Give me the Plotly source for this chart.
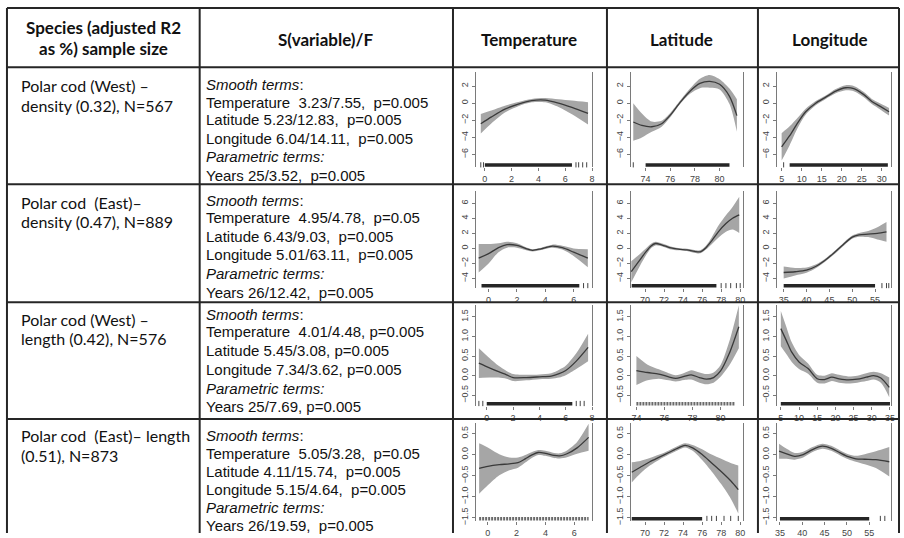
import plotly.graph_objects as go

W, H = 904, 538

# ---------------------------------------------------------------- table text
header_species = ["Species (adjusted R2", "as %) sample size"]
header_cols = ["S(variable)/F", "Temperature", "Latitude", "Longitude"]

species_labels = [
    ["Polar cod (West) \u2013", "density (0.32), N=567"],
    ["Polar cod  (East)\u2013", "density (0.47), N=889"],
    ["Polar cod (West) \u2013", "length (0.42), N=576"],
    ["Polar cod  (East)\u2013 length", "(0.51), N=873"],
]

# edf / F and p for the smooth terms, df / F and p for the year term
temp_stats = [("3.23/7.55", "0.005"), ("4.95/4.78", "0.05"), ("4.01/4.48", "0.005"), ("5.05/3.28", "0.05")]
lat_stats = [("5.23/12.83", "0.005"), ("6.43/9.03", "0.005"), ("5.45/3.08", "0.005"), ("4.11/15.74", "0.005")]
lon_stats = [("6.04/14.11", "0.005"), ("5.01/63.11", "0.005"), ("7.34/3.62", "0.005"), ("5.15/4.64", "0.005")]
year_stats = [("25/3.52", "0.005"), ("26/12.42", "0.005"), ("25/7.69", "0.005"), ("26/19.59", "0.005")]

# ---------------------------------------------------------------- smooths
# Polar cod (West) - density
wd_temp_x = [-0.3, 0.5, 1.5, 2.5, 3.5, 4.5, 5.5, 6.5, 7.7]
wd_temp_fit = [-2.4, -1.6, -0.7, -0.1, 0.3, 0.35, 0.0, -0.5, -1.2]
wd_temp_band = [1.15, 0.75, 0.4, 0.25, 0.2, 0.25, 0.45, 0.8, 1.3]

wd_lat_x = [73.0, 73.7, 74.5, 75.3, 76.0, 76.8, 77.6, 78.4, 79.2, 80.0, 80.8, 81.4]
wd_lat_fit = [-2.2, -2.6, -2.75, -2.4, -1.4, 0.1, 1.4, 2.3, 2.55, 2.2, 0.8, -1.45]
wd_lat_band = [2.2, 1.4, 0.6, 0.35, 0.25, 0.2, 0.3, 0.55, 0.75, 0.6, 0.9, 1.9]

wd_lon_x = [5.0, 7.0, 9.0, 11.0, 13.5, 16.0, 18.5, 21.0, 23.0, 25.5, 27.5, 29.5, 31.8]
wd_lon_fit = [-5.1, -3.8, -2.3, -1.0, 0.0, 0.7, 1.4, 1.8, 1.7, 1.0, 0.2, -0.35, -1.0]
wd_lon_band = [1.6, 1.1, 0.6, 0.35, 0.25, 0.2, 0.25, 0.3, 0.3, 0.3, 0.3, 0.35, 0.45]

# Polar cod (East) - density
ed_temp_x = [-0.7, 0.0, 0.7, 1.3, 2.0, 2.6, 3.1, 3.7, 4.5, 5.2, 6.0, 7.0]
ed_temp_fit = [-1.3, -0.7, 0.1, 0.5, 0.4, 0.0, -0.25, -0.05, 0.3, 0.1, -0.5, -1.3]
ed_temp_band = [1.9, 1.3, 0.6, 0.4, 0.3, 0.2, 0.15, 0.15, 0.2, 0.25, 0.5, 1.2]

ed_lat_x = [68.55, 69.3, 70.0, 70.6, 71.1, 71.8, 72.6, 73.5, 74.4, 75.2, 75.8, 76.4, 77.0, 77.7, 78.5, 79.2, 79.9]
ed_lat_fit = [-3.1, -1.8, -0.6, 0.3, 0.65, 0.45, 0.1, -0.1, -0.2, -0.4, -0.45, 0.1, 1.0, 2.2, 3.3, 4.0, 4.45]
ed_lat_band = [1.4, 0.9, 0.5, 0.3, 0.25, 0.2, 0.2, 0.15, 0.15, 0.2, 0.2, 0.25, 0.45, 0.8, 1.1, 1.5, 2.4]

ed_lon_x = [35.0, 37.5, 40.0, 42.0, 44.0, 46.0, 48.0, 50.0, 51.5, 53.5, 55.5, 57.5]
ed_lon_fit = [-3.2, -3.1, -2.9, -2.4, -1.6, -0.6, 0.5, 1.5, 1.8, 1.9, 2.0, 2.2]
ed_lon_band = [0.8, 0.5, 0.35, 0.25, 0.2, 0.2, 0.2, 0.2, 0.25, 0.4, 0.8, 1.3]

# Polar cod (West) - length
wl_temp_x = [-0.6, 0.2, 0.9, 1.5, 2.0, 3.0, 4.0, 4.9, 5.5, 6.0, 6.8, 7.7]
wl_temp_fit = [0.32, 0.2, 0.1, 0.02, -0.05, -0.05, -0.03, -0.01, 0.05, 0.13, 0.37, 0.72]
wl_temp_band = [0.38, 0.25, 0.15, 0.1, 0.09, 0.07, 0.06, 0.07, 0.1, 0.12, 0.2, 0.35]

wl_lat_x = [74.0, 74.8, 75.6, 76.3, 76.8, 77.4, 77.9, 78.5, 79.0, 79.5, 80.0, 80.6, 81.3]
wl_lat_fit = [0.13, 0.08, 0.04, -0.03, -0.07, -0.02, 0.02, -0.05, -0.09, -0.05, 0.12, 0.55, 1.25]
wl_lat_band = [0.37, 0.2, 0.12, 0.09, 0.08, 0.09, 0.12, 0.13, 0.13, 0.13, 0.15, 0.3, 0.55]

wl_lon_x = [5.0, 6.5, 8.0, 10.0, 12.5, 15.0, 17.0, 19.0, 21.0, 23.5, 26.0, 28.5, 30.5, 32.5, 34.8]
wl_lon_fit = [1.2, 0.9, 0.6, 0.35, 0.18, -0.08, -0.1, -0.04, -0.08, -0.11, -0.09, -0.04, 0.0, -0.06, -0.3]
wl_lon_band = [0.45, 0.35, 0.25, 0.18, 0.13, 0.1, 0.1, 0.1, 0.1, 0.09, 0.09, 0.1, 0.1, 0.12, 0.25]

# Polar cod (East) - length
el_temp_x = [-0.6, 0.0, 0.8, 1.5, 2.1, 2.6, 3.0, 3.5, 4.0, 4.6, 5.0, 5.5, 6.2, 7.0]
el_temp_fit = [-0.33, -0.28, -0.24, -0.22, -0.19, -0.1, -0.02, 0.05, 0.03, -0.02, -0.03, 0.02, 0.16, 0.41]
el_temp_band = [0.6, 0.45, 0.25, 0.15, 0.12, 0.09, 0.07, 0.06, 0.06, 0.06, 0.06, 0.08, 0.14, 0.32]

el_lat_x = [68.6, 69.5, 70.5, 71.5, 72.5, 73.5, 74.2, 75.0, 76.0, 77.0, 78.0, 79.0, 79.8]
el_lat_fit = [-0.42, -0.3, -0.17, -0.06, 0.05, 0.16, 0.22, 0.16, 0.0, -0.2, -0.4, -0.62, -0.83]
el_lat_band = [0.24, 0.15, 0.09, 0.06, 0.05, 0.05, 0.05, 0.07, 0.13, 0.2, 0.3, 0.42, 0.57]

el_lon_x = [34.8, 36.5, 38.3, 40.2, 42.3, 44.5, 46.5, 48.5, 50.3, 52.0, 54.0, 56.5, 59.5]
el_lon_fit = [0.08, 0.02, -0.04, 0.0, 0.12, 0.2, 0.15, 0.04, -0.05, -0.1, -0.11, -0.12, -0.17]
el_lon_band = [0.18, 0.12, 0.08, 0.07, 0.06, 0.06, 0.06, 0.06, 0.06, 0.07, 0.12, 0.2, 0.35]

# ---------------------------------------------------------------- rugs
# dense stretch of observations and isolated observations per panel
wd_temp_rug, wd_temp_rug_pts = (0.0, 6.5), [-0.3, -0.1, 6.8, 7.0, 7.3, 7.6]
wd_lat_rug, wd_lat_rug_pts = (74.0, 80.8), [73.0]
wd_lon_rug, wd_lon_rug_pts = (7.0, 31.5), [5.5]
ed_temp_rug, ed_temp_rug_pts = (-0.5, 6.4), [6.7, 7.0]
ed_lat_rug, ed_lat_rug_pts = (68.6, 77.5), [78.0, 78.5, 79.0, 79.6, 80.0]
ed_lon_rug, ed_lon_rug_pts = (35.0, 55.0), [56.5, 57.5, 58.0]
wl_temp_rug, wl_temp_rug_pts = (0.0, 6.5), [-0.6, -0.3, 6.8, 7.1, 7.4]
wl_lat_rug, wl_lat_rug_pts = (74.0, 81.0), []
wl_lon_rug, wl_lon_rug_pts = (5.0, 35.0), []
el_temp_rug, el_temp_rug_pts = (-0.6, 7.0), []
el_lat_rug, el_lat_rug_pts = (68.6, 76.0), [76.5, 77.0, 77.5, 78.3, 79.0, 79.8]
el_lon_rug, el_lon_rug_pts = (35.0, 55.0), [57.5, 58.5]

# ---------------------------------------------------------------- axes
temp_ticks_a = [0, 2, 4, 6, 8]
temp_ticks_b = [0, 2, 4, 6]
lat_ticks_a = [74, 76, 78, 80]
lat_ticks_b = [70, 72, 74, 76, 78, 80]
lon_ticks_a = [5, 10, 15, 20, 25, 30]
lon_ticks_b = [35, 40, 45, 50, 55]
lon_ticks_c = [5, 10, 15, 20, 25, 30, 35]
y_ticks_row = [
    [-6, -4, -2, 0, 2],
    [-4, -2, 0, 2, 4, 6],
    [-0.5, 0.0, 0.5, 1.0, 1.5],
    [-1.5, -1.0, -0.5, 0.0, 0.5],
]
y_range_row = [(-7.5, 3.6), (-5.3, 7.6), (-0.78, 1.8), (-1.58, 0.75)]
y_fmt_row = ["d", "d", ".1f", ".1f"]

panels = [
    # row, col, x, fit, band, x-range, x-ticks, rug span, rug points, light rug
    (0, 0, wd_temp_x, wd_temp_fit, wd_temp_band, (-0.67, 8.0), temp_ticks_a, wd_temp_rug, wd_temp_rug_pts, False),
    (0, 1, wd_lat_x, wd_lat_fit, wd_lat_band, (72.8, 81.9), lat_ticks_a, wd_lat_rug, wd_lat_rug_pts, False),
    (0, 2, wd_lon_x, wd_lon_fit, wd_lon_band, (3.8, 32.3), lon_ticks_a, wd_lon_rug, wd_lon_rug_pts, False),
    (1, 0, ed_temp_x, ed_temp_fit, ed_temp_band, (-0.9, 7.3), temp_ticks_b, ed_temp_rug, ed_temp_rug_pts, False),
    (1, 1, ed_lat_x, ed_lat_fit, ed_lat_band, (68.5, 80.3), lat_ticks_b, ed_lat_rug, ed_lat_rug_pts, False),
    (1, 2, ed_lon_x, ed_lon_fit, ed_lon_band, (33.5, 58.5), lon_ticks_b, ed_lon_rug, ed_lon_rug_pts, False),
    (2, 0, wl_temp_x, wl_temp_fit, wl_temp_band, (-0.83, 8.0), temp_ticks_a, wl_temp_rug, wl_temp_rug_pts, False),
    (2, 1, wl_lat_x, wl_lat_fit, wl_lat_band, (73.6, 81.6), lat_ticks_a, wl_lat_rug, wl_lat_rug_pts, True),
    (2, 2, wl_lon_x, wl_lon_fit, wl_lon_band, (3.9, 35.3), lon_ticks_c, wl_lon_rug, wl_lon_rug_pts, False),
    (3, 0, el_temp_x, el_temp_fit, el_temp_band, (-0.83, 7.24), temp_ticks_b, el_temp_rug, el_temp_rug_pts, True),
    (3, 1, el_lat_x, el_lat_fit, el_lat_band, (68.5, 80.3), lat_ticks_b, el_lat_rug, el_lat_rug_pts, False),
    (3, 2, el_lon_x, el_lon_fit, el_lon_band, (34.3, 59.9), lon_ticks_b, el_lon_rug, el_lon_rug_pts, False),
]

# ---------------------------------------------------------------- geometry (pixels)
col_lines = [5, 199, 454, 609, 761, 903]
row_lines = [8, 68, 186, 305, 423]
box_cols = [(477, 594), (633, 746), (780, 895)]
box_rows = [(73, 169), (193, 291), (308, 410), (427, 526)]


def fx(p):
    return p / W


def fy(p):
    return 1 - p / H


fig = go.Figure()
layout = dict(
    width=W, height=H, margin=dict(l=0, r=0, t=0, b=0),
    paper_bgcolor="white", plot_bgcolor="rgba(0,0,0,0)", showlegend=False,
)

BAND = "#a6a6a6"
LINE = "#3a3a3a"
AXIS = "#7a7a7a"
ARIAL = "'Liberation Sans', Arial, sans-serif"
TICKFONT = dict(family=ARIAL, size=9, color="#444")

for i, (r, c, xs, fit, band, xr, xt, rug, rug_pts, light) in enumerate(panels):
    k = i + 1
    xa = "x" if k == 1 else f"x{k}"
    ya = "y" if k == 1 else f"y{k}"
    x0, x1 = box_cols[c]
    y0, y1 = box_rows[r]
    ylo, yhi = y_range_row[r]

    upper = [f + b for f, b in zip(fit, band)]
    lower = [f - b for f, b in zip(fit, band)]
    # confidence band: lower edge, then upper edge filled down to it
    fig.add_trace(go.Scatter(
        x=xs, y=lower, mode="lines",
        line=dict(width=0, color=BAND, shape="spline", smoothing=0.8),
        hoverinfo="skip", xaxis=xa, yaxis=ya))
    fig.add_trace(go.Scatter(
        x=xs, y=upper, mode="lines", fill="tonexty", fillcolor=BAND,
        line=dict(width=0, color=BAND, shape="spline", smoothing=0.8),
        hoverinfo="skip", xaxis=xa, yaxis=ya))
    fig.add_trace(go.Scatter(
        x=xs, y=fit, mode="lines",
        line=dict(width=1.3, color=LINE, shape="spline", smoothing=0.8),
        xaxis=xa, yaxis=ya))

    # rug of observed covariate values along the bottom of the panel
    rug_y = ylo + 0.025 * (yhi - ylo)
    fig.add_trace(go.Scatter(
        x=list(rug), y=[rug_y, rug_y], mode="lines",
        line=dict(width=3.5, color="#6a6a6a" if light else "#262626",
                  dash="2px,1px" if light else "solid"),
        hoverinfo="skip", xaxis=xa, yaxis=ya))
    if rug_pts:
        fig.add_trace(go.Scatter(
            x=rug_pts, y=[rug_y] * len(rug_pts), mode="markers",
            marker=dict(symbol="line-ns", size=4, line=dict(width=1, color="#444")),
            hoverinfo="skip", xaxis=xa, yaxis=ya))

    layout["xaxis" if k == 1 else f"xaxis{k}"] = dict(
        domain=[fx(x0), fx(x1)], range=list(xr), anchor=ya,
        tickvals=xt, ticks="outside", ticklen=3, tickcolor=AXIS, tickwidth=1,
        showline=False, showgrid=False, zeroline=False, tickfont=TICKFONT,
        fixedrange=True)
    layout["yaxis" if k == 1 else f"yaxis{k}"] = dict(
        domain=[fy(y1), fy(y0)], range=[ylo, yhi], anchor=xa,
        tickvals=y_ticks_row[r], tickformat=y_fmt_row[r], tickangle=-90,
        ticks="outside", ticklen=3, tickcolor=AXIS, tickwidth=1,
        showline=True, linecolor=AXIS, linewidth=1, mirror=True,
        showgrid=False, zeroline=False, tickfont=TICKFONT, fixedrange=True)

# ---------------------------------------------------------------- table rules
shapes = []
for x in col_lines:
    shapes.append(dict(type="line", xref="paper", yref="paper",
                       x0=fx(x), x1=fx(x), y0=fy(row_lines[0]), y1=0,
                       line=dict(color="#262626", width=2)))
for y in row_lines:
    shapes.append(dict(type="line", xref="paper", yref="paper",
                       x0=fx(col_lines[0]), x1=fx(col_lines[-1]), y0=fy(y), y1=fy(y),
                       line=dict(color="#262626", width=2)))
layout["shapes"] = shapes

# ---------------------------------------------------------------- annotations
HEAD = dict(family="Lato, 'Open Sans', sans-serif", size=17, color="#111")
SPEC = dict(family="Lato, 'Open Sans', sans-serif", size=16, color="#111")
STAT = dict(family=ARIAL, size=15, color="#111")

ann = []


def add_text(x, y, text, font, xanchor="left"):
    ann.append(dict(x=fx(x), y=fy(y), xref="paper", yref="paper", text=text,
                    showarrow=False, xanchor=xanchor, yanchor="middle", font=font))


add_text(102, 28, f"<b>{header_species[0]}</b>", HEAD, "center")
add_text(102, 49, f"<b>{header_species[1]}</b>", HEAD, "center")
for name, cx in zip(header_cols, [326, 531, 684, 834]):
    add_text(cx, 40, f"<b>{name}</b>", HEAD, "center")

species_y = [(86, 106), (204, 224), (322, 342), (440, 460)]
stat_y = [
    [85, 103, 121, 140, 158, 177],
    [202, 220, 239, 257, 276, 295],
    [317, 335, 354, 373, 392, 410],
    [440, 458, 476, 494, 512, 530],
]
NB = "\u00a0"
for r in range(4):
    add_text(17, species_y[r][0], species_labels[r][0].replace("  ", " " + NB), SPEC)
    add_text(17, species_y[r][1], species_labels[r][1], SPEC)
    sep = "," + NB + " " if r != 2 else ", "
    lines = [
        "<i>Smooth terms</i>:",
        f"Temperature{NB} {temp_stats[r][0]}{sep}p={temp_stats[r][1]}",
        f"Latitude {lat_stats[r][0]}{sep}p={lat_stats[r][1]}",
        f"Longitude {lon_stats[r][0]}{sep}p={lon_stats[r][1]}",
        "<i>Parametric terms:</i>",
        f"Years {year_stats[r][0]}{sep}p={year_stats[r][1]}",
    ]
    for yy, t in zip(stat_y[r], lines):
        add_text(203, yy, t, STAT)

layout["annotations"] = ann
fig.update_layout(**layout)
fig.write_html("out.html")
